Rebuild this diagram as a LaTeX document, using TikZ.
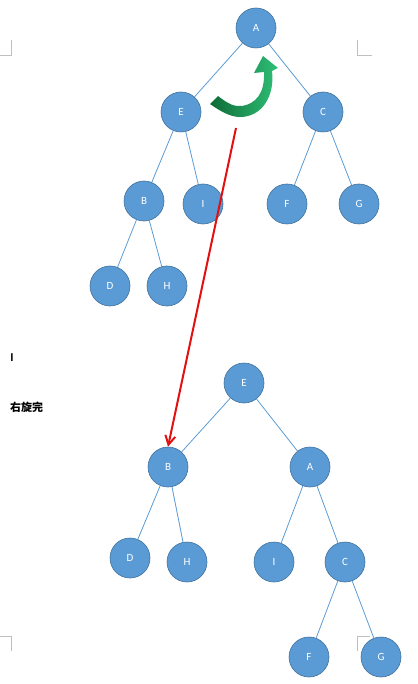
\documentclass[tikz,border=0pt]{standalone}
\usepackage{fontspec}
\setmainfont{Carlito}
\newfontfamily\cjk{Noto Sans CJK SC}
\usetikzlibrary{arrows.meta}
\definecolor{nodeblue}{HTML}{5B9BD5}
\definecolor{nodeedge}{HTML}{41719C}
\definecolor{markgray}{HTML}{BFBFBF}
\definecolor{arrowred}{HTML}{E31010}
\definecolor{greendark}{HTML}{0E6B36}
\definecolor{greenlight}{HTML}{2FC077}

\begin{document}
\begin{tikzpicture}[x=1pt,y=-1pt,
  tnode/.style={circle,fill=nodeblue,draw=nodeedge,line width=0.6pt,minimum size=40pt,inner sep=0pt,text=white,font=\fontsize{11}{12}\selectfont},
  tlink/.style={draw=nodeblue,line width=0.8pt},
  cropmark/.style={draw=markgray,line width=0.8pt}]
\useasboundingbox (0,0) rectangle (417,684);
% crop marks
\draw[cropmark] (0,55) -- (11,55) -- (11,40);
\draw[cropmark] (357,40) -- (357,55) -- (372,55);
\draw[cropmark] (0,636) -- (11,636) -- (11,651);
\draw[cropmark] (357,651) -- (357,636) -- (370,636);
% tree before rotation
\node[tnode] (tA) at (256,28) {A};
\node[tnode] (tE) at (181,112) {E};
\node[tnode] (tC) at (323,112) {C};
\node[tnode] (tB) at (144,201) {B};
\node[tnode] (tI) at (203,204) {I};
\node[tnode] (tF) at (287,204) {F};
\node[tnode] (tG) at (359,204) {G};
\node[tnode] (tD) at (110,286) {D};
\node[tnode] (tH) at (167,286) {H};
\foreach \a/\b in {tA/tE,tA/tC,tE/tB,tE/tI,tC/tF,tC/tG,tB/tD,tB/tH}
  \draw[tlink] (\a) -- (\b);
% tree after rotation
\node[tnode] (bE) at (244,383) {E};
\node[tnode] (bB) at (168,467) {B};
\node[tnode] (bA) at (310,467) {A};
\node[tnode] (bD) at (130,558) {D};
\node[tnode] (bH) at (187,562) {H};
\node[tnode] (bI) at (274,562) {I};
\node[tnode] (bC) at (345,562) {C};
\node[tnode] (bF) at (309,657) {F};
\node[tnode] (bG) at (381,657) {G};
\foreach \a/\b in {bE/bB,bE/bA,bB/bD,bB/bH,bA/bI,bA/bC,bC/bF,bC/bG}
  \draw[tlink] (\a) -- (\b);
% rotation arrow
\shade[left color=greendark,right color=greenlight]
  (218,96) .. controls (228,104) and (235,107) .. (242,106)
  .. controls (255,104) and (265,94) .. (264,72)
  -- (254,73) -- (263,56) -- (278,68) -- (272,71)
  .. controls (275,96) and (262,117) .. (240,117)
  .. controls (230,117) and (220,111) .. (210,104) -- cycle;
% move arrow
\coordinate (redstart) at (236,128);
\draw[arrowred,line width=2pt,-{Straight Barb[length=9pt,width=10pt,line width=2pt]}] (redstart) -- (bB.north);
% labels
\node[font=\bfseries\fontsize{12}{12}\selectfont,inner sep=0pt] (cursor) at (12,358) {I};
\node[font=\cjk\bfseries\fontsize{11}{11}\selectfont,anchor=west,inner sep=0pt] (done) at (10,407) {右旋完};
\end{tikzpicture}
\end{document}
